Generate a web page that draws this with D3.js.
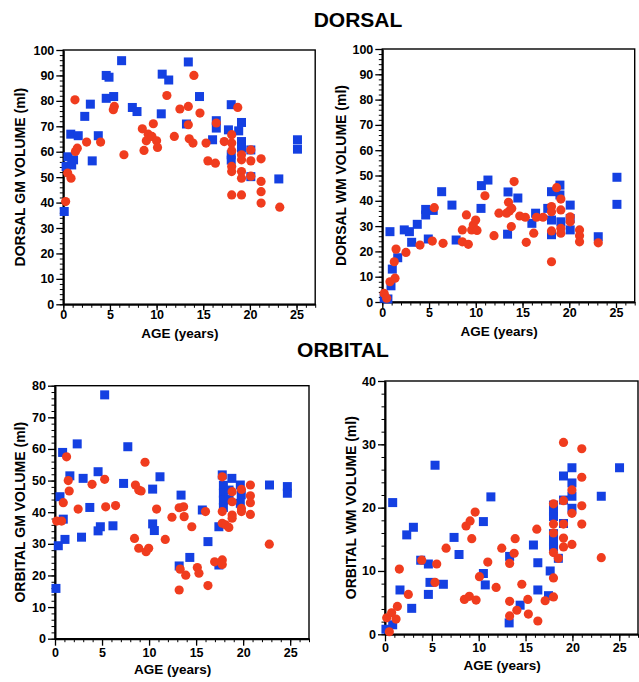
<!DOCTYPE html>
<html>
<head>
<meta charset="utf-8">
<script src="https://cdn.jsdelivr.net/npm/d3@7"></script>
<style>
  body { margin: 0; background: #fff; }
  svg { display: block; }
  text { font-family: "Liberation Sans", Arial, Helvetica, sans-serif; font-weight: bold; fill: #000; }
</style>
</head>
<body>
<svg id="fig" width="639" height="682"></svg>
<script>
// ---- tick values ----
const ageTicks = [0, 5, 10, 15, 20, 25];
const dorsalTicks = [0, 10, 20, 30, 40, 50, 60, 70, 80, 90, 100];
const orbitalGmTicks = [0, 10, 20, 30, 40, 50, 60, 70, 80];
const orbitalWmTicks = [0, 10, 20, 30, 40];

// ---- measurements: [age (years), volume (ml)] ----
const dorsalGmBlue = [[0.1,36.5],[0.3,54.2],[0.5,58],[0.9,54.8],[1.1,56.8],[0.8,66.9],[1.6,66.3],[2.3,73.9],[2.9,78.7],[3.1,56.4],[3.75,66.3],[4.6,81],[4.6,90],[4.9,89.3],[5.4,81.7],[6.25,95.8],[7.4,77.4],[7.9,75.8],[10.5,74.9],[10.6,90.5],[11.3,88.2],[13.2,70.9],[13.4,95.3],[14.6,81.7],[16.0,64.7],[16.4,72.2],[16.4,69.3],[17.7,68.6],[18.0,78.5],[18.0,58.8],[18.0,56.7],[18.8,68.2],[19.1,71.5],[19.1,64],[19.1,61.4],[20.1,60.7],[20.1,50.2],[23.1,49.3],[25.1,64.7],[25.1,61]];
const dorsalGmRed = [[0.25,40.4],[0.47,51.6],[0.83,49.6],[1.25,80.4],[1.3,60.1],[1.5,61.4],[2.5,63.8],[4.0,63.8],[5.47,77.8],[5.36,76.5],[6.5,58.8],[8.47,69],[8.65,60.5],[8.9,64.3],[9.1,66.9],[9.5,66],[9.65,71],[10.0,64.3],[10.1,61.7],[11.1,82.1],[11.9,66],[12.5,76.8],[13.4,77.8],[13.4,70.6],[13.5,65.1],[13.9,63.4],[14.0,90],[14.65,75.2],[15.3,63.4],[15.5,56.4],[16.3,55.5],[16.4,71.3],[17.25,64],[18.05,66.7],[18.05,63.4],[18.05,60.4],[18.05,54.2],[18.05,52.2],[18.05,43],[18.7,77.4],[19.1,58.8],[19.1,56.8],[19.1,52.2],[19.1,49.6],[19.1,43],[20.1,60.7],[20.1,56.4],[20.1,50.4],[21.2,57.2],[21.2,48.3],[21.2,44.3],[21.2,39.8],[23.2,38.2]];

const dorsalWmBlue = [[0.2,1.5],[0.6,1.2],[0.93,6.4],[1.07,13],[1.65,17.5],[0.82,27.8],[2.35,28.5],[2.9,27.8],[3.14,23.6],[3.74,30.7],[4.64,36.6],[4.64,34.4],[4.92,24.9],[5.45,36.2],[6.35,43.6],[7.45,38.3],[7.9,24.5],[10.56,37],[10.6,46],[11.3,48.2],[13.4,26.8],[13.45,43.5],[14.5,41.1],[16.0,31.1],[16.4,35.1],[17.7,37],[18.1,43.6],[18.1,32.4],[18.1,26.6],[19.0,46.2],[19.0,42.3],[19.1,31.7],[20.1,38.3],[20.1,33],[20.1,28.5],[23.1,25.8],[25.1,49.3],[25.1,38.6]];
const dorsalWmRed = [[0.2,3.4],[0.47,1.5],[0.82,8],[1.36,9.4],[1.28,15.9],[1.47,20.9],[2.53,19.6],[4.03,22.5],[5.35,24.1],[5.56,37.3],[6.5,23.2],[8.56,23.8],[8.56,28.5],[9.0,34.4],[9.2,22.8],[9.56,28.5],[9.73,30.4],[9.99,32.4],[10.13,28.3],[10.98,42],[11.95,26.2],[12.48,35.1],[13.3,35.1],[13.5,39.4],[13.6,36],[13.8,29.8],[13.85,37],[14.1,47.6],[14.7,34],[15.3,33.5],[15.4,23.6],[16.2,27.2],[16.5,33.5],[17.2,33.5],[18.1,37.7],[18.1,35.7],[18.1,28.1],[18.1,15.9],[18.65,45.2],[19.1,40.7],[19.1,36.4],[19.1,29.1],[19.1,27.2],[20.1,33.7],[20.1,31.7],[21.1,28.5],[21.1,26.2],[21.1,23.8],[23.1,23.4]];

const orbitalGmBlue = [[0.1,15.9],[0.35,29.4],[1.06,31.4],[0.88,37.8],[0.53,44.9],[0.81,58.9],[1.58,51.5],[2.36,61.6],[2.82,32.1],[2.99,50.7],[3.7,41.5],[4.58,52.8],[4.58,34.1],[4.82,35.4],[5.28,77.1],[6.16,35.7],[7.29,49.1],[7.74,60.7],[10.38,47.3],[10.38,36.3],[10.56,34.2],[11.16,51.2],[13.2,23],[13.4,45.4],[14.33,25.7],[15.66,40.7],[16.26,30.7],[17.42,35.4],[17.42,23.3],[17.78,51.8],[17.9,48.5],[17.9,46.0],[17.9,43.8],[17.9,41.5],[18.5,47],[18.5,44],[18.8,50.7],[19.7,48.6],[19.8,45.5],[19.7,42.8],[22.8,48.6],[24.7,48.1],[24.7,46]];
const orbitalGmRed = [[0.18,37.2],[0.7,37.2],[0.88,43],[1.23,57.5],[1.41,50],[1.51,46.7],[2.46,41],[3.94,48.8],[5.28,50.4],[5.39,41.7],[6.44,42.1],[8.45,31.7],[8.55,48.6],[8.9,47],[9.15,46.7],[8.9,28.6],[9.57,55.8],[9.68,27.5],[9.96,28.6],[10.8,41],[11.72,31.4],[12.43,38.4],[13.2,41.4],[13.3,22],[13.2,15.4],[13.67,41.7],[13.73,38.6],[13.9,20.1],[14.54,35.4],[15.13,22.5],[15.3,20.7],[16.0,40.2],[16.26,16.8],[16.97,24.3],[17.78,24.9],[17.78,23.5],[17.78,51.2],[17.78,40.2],[17.78,36.5],[18.13,36],[18.48,35.2],[18.83,46.5],[18.83,43.3],[18.83,39.1],[18.83,38.1],[19.82,47.2],[19.82,41.2],[19.82,40.2],[20.77,48.6],[20.77,45.2],[20.77,43],[20.77,39.3],[22.78,29.9]];

const orbitalWmBlue = [[0.1,0.8],[0.82,1.5],[0.82,20.8],[1.6,7],[2.32,15.7],[3.03,16.9],[2.85,4.1],[3.81,11.7],[4.63,11.1],[4.63,6.3],[4.8,8.2],[5.34,26.7],[6.23,7.9],[7.37,15.3],[7.9,12.6],[10.5,17.8],[10.5,9.6],[10.7,7.8],[11.3,21.7],[13.3,12.3],[13.25,1.8],[14.42,4.6],[15.84,14.1],[16.31,11.3],[16.31,7],[17.63,10],[17.45,6.1],[17.98,20.4],[17.98,19.4],[17.98,18.6],[17.98,15.9],[17.98,14.6],[17.98,13.8],[18.5,12],[19.05,25],[19.05,21.2],[19.05,17.5],[19.95,26.3],[19.95,23.9],[19.95,21.8],[19.95,19.9],[23.08,21.8],[25.03,26.3]];
const orbitalWmRed = [[0.18,2.6],[0.46,0.4],[0.71,3.4],[1.18,2.4],[1.32,4.4],[1.53,10.3],[2.49,6.3],[3.92,11.7],[5.52,11.1],[5.34,8.2],[6.52,13.6],[8.47,5.5],[8.65,17.1],[9.08,17.9],[9.62,19.3],[9.26,15.1],[9.0,6.0],[9.72,5.4],[10.08,9.1],[10.97,11.4],[11.86,7.4],[12.46,13.6],[13.3,11.2],[13.3,5.2],[13.3,2.9],[13.89,15.1],[13.78,12.8],[14.07,3.8],[14.6,7.9],[15.24,5.5],[15.3,3.2],[16.2,16.6],[16.31,2.1],[17.09,5.3],[17.98,20.6],[17.98,17.4],[17.98,16.0],[17.98,12.9],[17.98,8.9],[17.98,5.9],[18.5,12],[19.05,30.3],[19.05,21.1],[19.05,17.4],[19.05,15.2],[19.05,13.8],[19.95,22.8],[19.95,19.1],[19.95,14.2],[21.0,29.3],[21.0,24.8],[21.0,20.3],[21.0,17.4],[23.08,12.1]];

// ---- styling ----
const BLUE = "#1440e2";
const RED = "#f03c1e";
const SQUARE = 9;
const RADIUS = 4.6;

const svg = d3.select("#fig");

// Section headings
svg.append("text").attr("x", 358).attr("y", 27).attr("text-anchor", "middle")
  .style("font-size", "21px").text("DORSAL");
svg.append("text").attr("x", 343).attr("y", 357).attr("text-anchor", "middle")
  .style("font-size", "21px").text("ORBITAL");

const panels = [
  { blue: dorsalGmBlue, red: dorsalGmRed, yMax: 100, yTicks: dorsalTicks,
    yLabel: "DORSAL GM VOLUME (ml)", l: 63.3, r: 315.2, t: 50, b: 304.3,
    yLabelX: 20, xTick: 6, xPad: 0, xLabelDy: 33.5 },
  { blue: dorsalWmBlue, red: dorsalWmRed, yMax: 100, yTicks: dorsalTicks,
    yLabel: "DORSAL WM VOLUME (ml)", l: 382.3, r: 634.7, t: 49, b: 302,
    yLabelX: 341, xTick: 6, xPad: 0, xLabelDy: 33.5 },
  { blue: orbitalGmBlue, red: orbitalGmRed, yMax: 80, yTicks: orbitalGmTicks,
    yLabel: "ORBITAL GM VOLUME (ml)", l: 55, r: 309, t: 385.7, b: 638.7,
    yLabelX: 20, xTick: 7, xPad: 2, xLabelDy: 35.5 },
  { blue: orbitalWmBlue, red: orbitalWmRed, yMax: 40, yTicks: orbitalWmTicks,
    yLabel: "ORBITAL WM VOLUME (ml)", l: 385, r: 638, t: 381, b: 634.3,
    yLabelX: 351, xTick: 7, xPad: 2, xLabelDy: 35.5 }
];

panels.forEach(p => {
  const x = d3.scaleLinear().domain([0, 27]).range([p.l, p.r]);
  const y = d3.scaleLinear().domain([0, p.yMax]).range([p.b, p.t]);
  const g = svg.append("g");

  // frame
  g.append("rect").attr("x", p.l).attr("y", p.t)
    .attr("width", p.r - p.l).attr("height", p.b - p.t)
    .attr("fill", "none").attr("stroke", "#000").attr("stroke-width", 1.4);

  // minor ticks
  g.append("g").attr("transform", `translate(0,${p.b})`)
    .call(d3.axisBottom(x).tickValues(d3.range(0, 28, 1)).tickSize(3.5).tickSizeOuter(0).tickFormat(""))
    .call(a => a.select(".domain").remove());
  g.append("g").attr("transform", `translate(${p.l},0)`)
    .call(d3.axisLeft(y).tickValues(d3.range(0, p.yMax + 1, 2)).tickSize(3.5).tickSizeOuter(0).tickFormat(""))
    .call(a => a.select(".domain").remove());

  // major ticks and labels
  const xa = g.append("g").attr("transform", `translate(0,${p.b})`)
    .call(d3.axisBottom(x).tickValues(ageTicks).tickSize(p.xTick).tickSizeOuter(0).tickPadding(p.xPad));
  const ya = g.append("g").attr("transform", `translate(${p.l},0)`)
    .call(d3.axisLeft(y).tickValues(p.yTicks).tickSize(7).tickSizeOuter(0).tickPadding(2));
  [xa, ya].forEach(a => {
    a.select(".domain").attr("stroke-width", 2);
    a.selectAll(".tick line").attr("stroke-width", 1.3);
    a.selectAll("text").style("font-size", "12.5px")
      .style("font-family", "'Liberation Sans', Arial, sans-serif").style("font-weight", "bold");
  });
  g.selectAll(".tick line").attr("stroke", "#000");

  // axis titles
  g.append("text").attr("x", (x(0) + x(25)) / 2).attr("y", p.b + p.xLabelDy)
    .attr("text-anchor", "middle").style("font-size", "13.5px").text("AGE (years)");
  g.append("text")
    .attr("transform", `translate(${p.yLabelX},${(p.t + p.b) / 2}) rotate(-90)`)
    .attr("text-anchor", "middle").attr("dy", "0.35em")
    .style("font-size", "14px").text(p.yLabel);

  // points
  g.append("g").selectAll("rect").data(p.blue).join("rect")
    .attr("x", d => x(d[0]) - SQUARE / 2).attr("y", d => y(d[1]) - SQUARE / 2)
    .attr("width", SQUARE).attr("height", SQUARE).attr("fill", BLUE);
  g.append("g").selectAll("circle").data(p.red).join("circle")
    .attr("cx", d => x(d[0])).attr("cy", d => y(d[1])).attr("r", RADIUS).attr("fill", RED);
});
</script>
</body>
</html>
